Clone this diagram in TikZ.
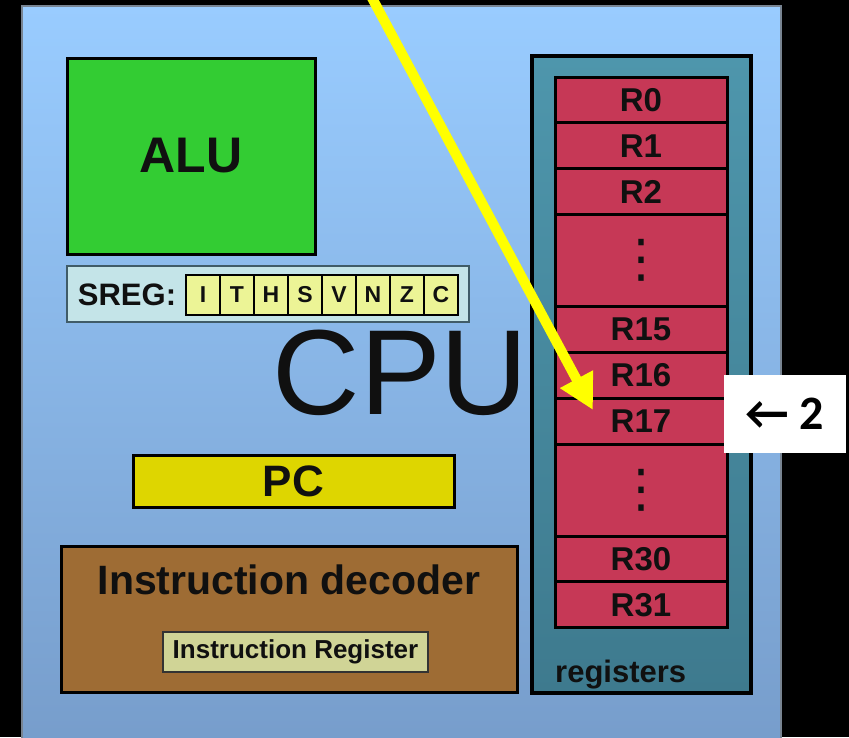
\documentclass[tikz,border=0pt]{standalone}
\usepackage{fontspec}
\setmainfont{Liberation Sans}
\newfontfamily\calibri{Carlito}
\newfontfamily\symfont{DejaVu Sans}
\usetikzlibrary{arrows.meta,positioning}
\definecolor{CpuTop}{RGB}{153,204,255}
\definecolor{CpuBottom}{RGB}{118,156,202}
\definecolor{CpuEdge}{RGB}{120,132,146}
\definecolor{AluGreen}{RGB}{51,204,51}
\definecolor{SregFill}{RGB}{196,228,232}
\definecolor{SregEdge}{RGB}{64,92,104}
\definecolor{FlagFill}{RGB}{236,244,150}
\definecolor{PcYellow}{RGB}{222,214,0}
\definecolor{DecBrown}{RGB}{158,108,52}
\definecolor{IrFill}{RGB}{208,212,150}
\definecolor{TealTop}{RGB}{78,150,172}
\definecolor{TealBottom}{RGB}{62,122,142}
\definecolor{RegRed}{RGB}{198,56,86}
\definecolor{Ink}{RGB}{16,16,16}
\definecolor{Hilite}{RGB}{255,255,0}
\newcommand\pxfont[1]{\fontsize{#1}{#1}\selectfont}
\newcommand\regdots{\symfont\mdseries\pxfont{52}⋮}
\tikzset{
  >=Latex,
  unit/.style={draw=black,line width=3pt,inner sep=0pt,align=center,text=Ink,font=\bfseries},
  alubox/.style={unit,fill=AluGreen,font=\bfseries\pxfont{50}},
  sregbox/.style={draw=SregEdge,line width=2.5pt,fill=SregFill,inner sep=0pt},
  flagbit/.style={unit,line width=2.2pt,fill=FlagFill,minimum width=34pt,minimum height=40pt,font=\bfseries\pxfont{23}},
  pcbox/.style={unit,fill=PcYellow,font=\bfseries\pxfont{44}},
  decbox/.style={unit,fill=DecBrown},
  irbox/.style={draw=black!80,line width=2pt,fill=IrFill,inner sep=0pt,text=Ink,font=\bfseries\pxfont{26}},
  regfile/.style={draw=black,line width=3.5pt,top color=TealTop,bottom color=TealBottom,inner sep=0pt},
  regcell/.style={unit,fill=RegRed,minimum width=172pt,font=\bfseries\pxfont{33}},
  tag/.style={text=Ink,inner sep=0pt},
  hilite/.style={-{Triangle[length=35pt,width=35pt]},line width=10pt,draw=Hilite},
  callout/.style={fill=white,inner sep=0pt,minimum width=122pt,minimum height=78pt,text=black,font=\calibri\bfseries\pxfont{48}}
}
\begin{document}
\begin{tikzpicture}[x=1pt,y=-1pt]
  \useasboundingbox (0,0) rectangle (849,737);
  \fill[black] (0,0) rectangle (849,737);
  \node[draw=CpuEdge,line width=1.5pt,top color=CpuTop,bottom color=CpuBottom,inner sep=0pt,minimum width=759pt,minimum height=754pt] (cpu) at (401.5,383) {};
  \node[tag,font=\pxfont{121}] (cputxt) at (400.5,373) {CPU};
  \node[alubox,minimum width=248pt,minimum height=196pt] (alu) at (191,156) {ALU};
  \node[sregbox,minimum width=402pt,minimum height=56pt] (sreg) at (268,294) {};
  \node[tag,font=\bfseries\pxfont{31}] (sregtxt) at (127,295) {SREG:};
  \foreach \f [count=\i from 0] in {I,T,H,S,V,N,Z,C}
    \node[flagbit] (f\i) at ({203+34*\i},295) {\f};
  \node[pcbox,minimum width=321pt,minimum height=52pt] (pc) at (293.5,481) {PC};
  \node[decbox,minimum width=456pt,minimum height=146pt] (dec) at (289,619) {};
  \node[tag,font=\bfseries\pxfont{41}] (dectxt) at (289,580) {Instruction decoder};
  \node[irbox,minimum width=265pt,minimum height=40pt] (ir) at (295.5,652) {Instruction Register};
  \node[regfile,minimum width=219pt,minimum height=637pt] (regs) at (641.5,374.5) {};
  \foreach \nm/\lbl/\at/\sz in {r0/R0/0/1,r1/R1/1/1,r2/R2/2/1,da/{\regdots}/3/2,r15/R15/5/1,r16/R16/6/1,r17/R17/7/1,db/{\regdots}/8/2,r30/R30/10/1,r31/R31/11/1}{
    \pgfmathsetmacro\hh{45.9*\sz}
    \pgfmathsetmacro\yy{77+45.9*(\at+\sz/2)}
    \node[regcell,minimum height=\hh pt] (\nm) at (641,\yy) {\lbl};
  }
  \node[tag,anchor=base west,font=\bfseries\pxfont{31}] (regtxt) at (555,682) {registers};
  \coordinate (src) at (371,-4);
  \coordinate (tip) at (593,410);
  \draw[hilite] (src) -- (tip);
  \node[callout] (two) at (785,414) {← 2};
\end{tikzpicture}
\end{document}
